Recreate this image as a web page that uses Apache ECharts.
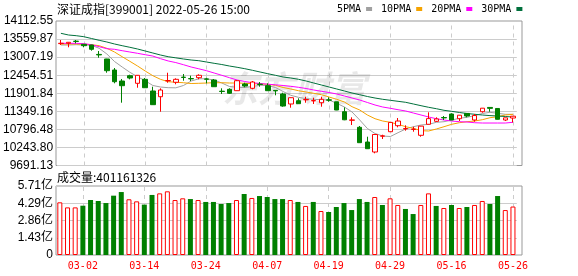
<!DOCTYPE html>
<html><head><meta charset="utf-8">
<script src="https://cdn.jsdelivr.net/npm/echarts@6/dist/echarts.min.js"></script>
<style>html,body{margin:0;padding:0;background:#fff}#c{width:578px;height:276px}</style>
</head><body><div id="c"></div>
<script>
const titleText = '深证成指[399001] 2022-05-26 15:00';
const volumeTitle = '成交量:401161326';
const legendNames = ['5PMA', '10PMA', '20PMA', '30PMA'];
const maColors = ['#a0a0a0', '#f5a300', '#ff00ff', '#00703c'];

const dates = ['02-25','02-28','03-01','03-02','03-03','03-04','03-07','03-08','03-09','03-10',
  '03-11','03-14','03-15','03-16','03-17','03-18','03-21','03-22','03-23','03-24',
  '03-25','03-28','03-29','03-30','03-31','04-01','04-06','04-07','04-08','04-11',
  '04-12','04-13','04-14','04-15','04-18','04-19','04-20','04-21','04-22','04-25',
  '04-26','04-27','04-28','04-29','05-05','05-06','05-09','05-10','05-11','05-12',
  '05-13','05-16','05-17','05-18','05-19','05-20','05-23','05-24','05-25','05-26'];
const xLabelDates = ['03-02','03-14','03-24','04-07','04-19','04-29','05-16','05-26'];

const opens = [13420,13430,13495,13400,13378,13090,12950,12613,12276,12439,
  12206,12328,11971,11796,12280,12237,12395,12352,12378,12340,
  12307,11965,12022,11980,12185,12053,12180,12133,11990,11879,
  11573,11674,11700,11668,11612,11700,11640,11337,11075,10860,
  10410,10104,10588,10725,10909,10812,10795,10615,10952,11043,
  11158,11267,11123,11285,11083,11337,11468,11436,11083,11144];
const closes = [13432,13461,13488,13357,13247,13075,12592,12255,12133,12368,
  12451,12071,11552,12001,12292,12328,12385,12342,12451,12330,
  12102,11955,11900,12286,12123,12246,12170,11980,11975,11511,
  11766,11582,11710,11678,11717,11690,11389,11090,11085,10389,
  10205,10640,10598,11010,11052,10822,10803,10895,11125,11115,
  11148,11083,11230,11205,11220,11445,11440,11105,11150,11200];
const lows = [13378,13308,13430,13308,13204,12989,12530,12206,11613,12328,
  12071,12065,11545,11337,12224,12175,12286,12276,12328,12206,
  12095,11879,11879,11975,12084,12022,12102,11975,11839,11490,
  11460,11575,11612,11573,11490,11643,11385,11078,10930,10385,
  10200,10064,10502,10720,10860,10756,10725,10572,10948,11022,
  11083,11078,11052,11166,11031,11307,11337,11100,11052,11010];
const highs = [13531,13470,13531,13409,13385,13194,12955,12674,12338,12469,
  12460,12368,12102,12053,12530,12359,12491,12439,12482,12377,
  12338,12053,12053,12307,12224,12276,12246,12206,12001,11918,
  11770,11747,11796,11766,11796,11778,11643,11472,11166,10900,
  10572,10645,10633,11013,11144,10921,10878,10900,11319,11166,
  11206,11288,11235,11288,11267,11450,11472,11441,11153,11206];

const ma5 = [13378,13378,13387,13378,13369,13277,13103,12873,12705,12543,
  12408,12286,12139,12093,12072,12068,12139,12276,12344,12344,
  12307,12215,12108,12084,12078,12108,12145,12139,12078,11955,
  11839,11778,11735,11717,11704,11695,11594,11481,11328,11083,
  10823,10670,10593,10578,10695,10808,10878,10930,10951,11013,
  11031,11083,11135,11166,11215,11282,11319,11288,11258,11258];
const ma10 = [13409,13409,13409,13400,13387,13357,13277,13164,13020,12879,
  12736,12583,12439,12328,12255,12237,12224,12200,12206,12215,
  12224,12224,12215,12215,12206,12194,12185,12175,12145,12078,
  12032,11980,11940,11900,11857,11787,11716,11634,11490,11389,
  11236,11123,11052,11013,10951,10878,10829,10756,10747,10808,
  10878,10951,11000,11031,11052,11092,11153,11184,11236,11257];
const ma20 = [13430,13430,13430,13418,13387,13326,13265,13247,13204,13164,
  13124,13081,13040,12960,12890,12840,12775,12705,12650,12592,
  12521,12451,12378,12307,12261,12224,12200,12179,12160,12139,
  12114,12084,12047,12001,11961,11925,11879,11818,11756,11695,
  11619,11542,11481,11441,11398,11359,11297,11236,11175,11123,
  11083,11052,11031,11022,11000,10991,10991,10991,10991,11013];
const ma30 = [13736,13684,13663,13632,13577,13522,13470,13409,13357,13308,
  13256,13195,13133,13072,13020,12985,12950,12919,12898,12858,
  12818,12781,12735,12696,12653,12604,12552,12500,12451,12399,
  12368,12329,12277,12215,12154,12093,12032,11971,11909,11857,
  11802,11756,11717,11686,11655,11625,11573,11521,11472,11429,
  11380,11349,11313,11282,11258,11236,11218,11206,11190,11175];

// volume in 亿
const volumes = [4.36,3.94,3.94,4.08,4.55,4.47,4.30,4.91,5.21,4.61,
  4.44,4.17,4.97,5.10,5.27,4.55,4.69,4.63,4.55,4.39,
  4.39,4.22,4.30,4.55,5.05,4.72,4.88,4.80,4.63,4.63,
  4.55,4.39,4.06,4.39,3.64,3.56,3.97,4.30,3.72,4.63,
  4.39,4.80,4.14,4.69,4.14,3.81,3.39,4.14,5.10,4.06,
  3.89,4.14,3.89,3.97,4.14,4.47,4.22,4.88,3.72,4.01];
const volUp = [1,1,1,0,0,0,0,0,0,1,
  1,0,0,1,1,1,1,0,1,0,
  0,0,0,1,0,1,0,0,0,0,
  1,0,1,0,1,0,0,0,0,0,
  0,1,0,1,1,0,0,1,1,0,
  1,0,1,0,1,1,0,0,1,1];

const priceTickLabels = ['9691.13','10243.80','10796.48','11349.16','11901.84','12454.51','13007.19','13559.87','14112.55'];
const priceTicks = priceTickLabels.map(Number);
const volTickLabels = ['0','1.43亿','2.86亿','4.29亿','5.71亿'];
const volTicks = [0, 1.43, 2.86, 4.29, 5.71];

function nearest(v, ticks, labels) {
  let bi = 0, bd = Infinity;
  ticks.forEach((t, i) => { const d = Math.abs(t - v); if (d < bd) { bd = d; bi = i; } });
  return labels[bi];
}
const showAt = (i, v) => xLabelDates.indexOf(v) >= 0;

const GL = 56, SLOT = 7.68;
const plotW = SLOT * dates.length;
const topY = 21, topH = 144.5, volY = 186, volH = 69, frameW = 466;

const chart = echarts.init(document.getElementById('c'), null, {renderer: 'canvas'});
const maSeries = [ma5, ma10, ma20, ma30].map((arr, k) => ({
  name: legendNames[k], type: 'line', xAxisIndex: 0, yAxisIndex: 0,
  data: arr, showSymbol: false, symbol: 'none', smooth: false,
  lineStyle: {width: 1, color: maColors[k]}, itemStyle: {color: maColors[k]}, z: 3
}));

chart.setOption({
  animation: false,
  title: [
    {text: titleText, left: 57, top: 3, padding: 0,
     textStyle: {fontSize: 12, fontWeight: 'normal', color: '#000', fontFamily: 'Noto Sans CJK SC'}},
    {text: volumeTitle, left: 57, top: 171, padding: 0,
     textStyle: {fontSize: 12, fontWeight: 'normal', color: '#000', fontFamily: 'Noto Sans CJK SC'}}
  ],
  legend: {
    data: legendNames, left: 337, top: 4, padding: 0, itemGap: 9,
    itemWidth: 6, itemHeight: 4, icon: 'rect', align: 'right',
    textStyle: {fontSize: 10, color: '#000', fontFamily: 'DejaVu Sans Mono'}
  },
  graphic: [{
    type: 'text', left: 222, top: 70, z: 1, silent: true,
    style: {text: '东方财富', font: 'italic bold 36px "Noto Sans CJK SC"', fill: 'rgba(0,0,0,0.09)'}
  }],
  grid: [
    {left: GL, top: topY, width: plotW, height: topH},
    {left: GL, top: volY, width: plotW, height: volH},
    {left: GL, top: topY, width: frameW, height: topH, show: true, borderColor: '#999', borderWidth: 1, backgroundColor: 'transparent'},
    {left: GL, top: volY, width: frameW, height: volH, show: true, borderColor: '#999', borderWidth: 1, backgroundColor: 'transparent'}
  ],
  xAxis: [
    {type: 'category', gridIndex: 0, data: dates, boundaryGap: true,
     axisLine: {show: false}, axisLabel: {show: false}, splitLine: {show: false},
     axisTick: {show: true, inside: true, length: topH, alignWithLabel: true, interval: showAt,
                lineStyle: {color: '#ccc', type: [4, 4], width: 1}}},
    {type: 'category', gridIndex: 1, data: dates, boundaryGap: true,
     axisLine: {show: false}, splitLine: {show: false},
     axisTick: {show: true, inside: true, length: volH, alignWithLabel: true, interval: showAt,
                lineStyle: {color: '#ccc', type: [4, 4], width: 1}},
     axisLabel: {show: true, interval: showAt, color: '#ff0000', fontSize: 10, margin: 6,
                 fontFamily: 'DejaVu Sans Mono'}}
  ],
  yAxis: [
    {type: 'value', gridIndex: 0, min: priceTicks[0], max: priceTicks[priceTicks.length - 1],
     interval: (priceTicks[priceTicks.length - 1] - priceTicks[0]) / (priceTicks.length - 1),
     axisLine: {show: false}, axisTick: {show: false},
     axisLabel: {margin: 4, color: '#000', fontSize: 12, fontFamily: 'Liberation Sans',
                 formatter: v => nearest(v, priceTicks, priceTickLabels)},
     splitLine: {show: true, lineStyle: {color: '#cccccc', width: 1}}},
    {type: 'value', gridIndex: 1, min: 0, max: volTicks[volTicks.length - 1],
     interval: volTicks[volTicks.length - 1] / (volTicks.length - 1),
     axisLine: {show: false}, axisTick: {show: false},
     axisLabel: {margin: 3, color: '#000', fontSize: 12, fontFamily: "'Liberation Sans','Noto Sans CJK SC'",
                 formatter: v => nearest(v, volTicks, volTickLabels)},
     splitLine: {show: true, lineStyle: {color: '#cccccc', width: 1}}}
  ],
  series: [
    {type: 'candlestick', name: 'K', xAxisIndex: 0, yAxisIndex: 0, barWidth: 5, z: 4,
     data: dates.map((d, i) => [opens[i], closes[i], lows[i], highs[i]]),
     itemStyle: {color: '#ffffff', color0: '#008000', borderColor: '#ff0000', borderColor0: '#008000', borderWidth: 1}},
    ...maSeries,
    {type: 'bar', name: 'VOL', xAxisIndex: 1, yAxisIndex: 1, barWidth: 5,
     data: volumes.map((v, i) => ({value: v, itemStyle: volUp[i]
        ? {color: '#ffffff', borderColor: '#ff0000', borderWidth: 1}
        : {color: '#008000', borderColor: '#008000', borderWidth: 0}}))}
  ]
});
</script></body></html>
